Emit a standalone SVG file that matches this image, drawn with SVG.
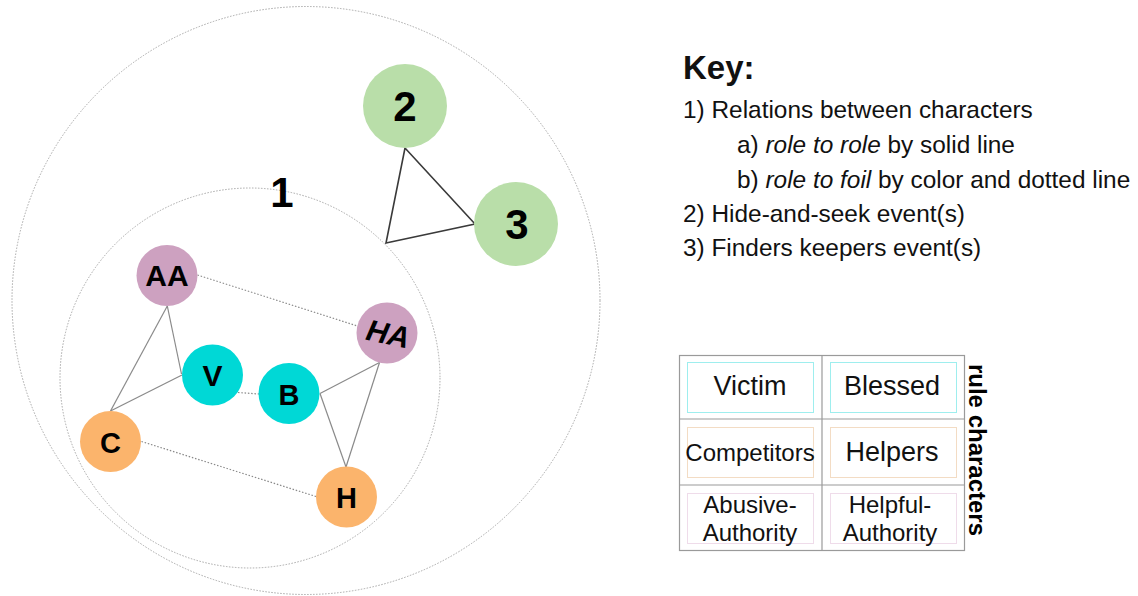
<svg xmlns="http://www.w3.org/2000/svg" width="1138" height="596" viewBox="0 0 1138 596">
<style>
.ring{fill:none;stroke:#a8a8a8;stroke-width:1;stroke-dasharray:1.5 1.5}
.solid{stroke:#8a8a8a;stroke-width:1.2;fill:none}
.dot{stroke:#8a8a8a;stroke-width:1.2;stroke-dasharray:1.5 1.8;fill:none}
.tri{stroke:#3a3a3a;stroke-width:1.6;fill:none}
.lbl{font-family:"Liberation Sans",Arial,sans-serif;font-weight:bold;fill:#000;text-anchor:middle}
.num{font-family:"Liberation Sans",Arial,sans-serif;font-weight:bold;font-size:42px;fill:#000;text-anchor:middle}
.key{font-family:"Liberation Sans",Arial,sans-serif;font-size:24.4px;fill:#111}
.cell{font-family:"Liberation Sans",Arial,sans-serif;fill:#111;text-anchor:middle}
.pink{fill:#cda1c0}
.cyan{fill:#00d8d6}
.orange{fill:#fbb46c}
.green{fill:#b9dea9}
.grid{fill:none;stroke:#9a9a9a;stroke-width:1.2}
</style>
<rect width="1138" height="596" fill="#fff"/>
<g id="rings">
<circle class="ring" cx="306" cy="300.5" r="294"/>
<circle class="ring" cx="250" cy="378" r="190"/>
<text class="num" x="282" y="207">1</text>
</g>
<g id="connectors">
<line class="solid" x1="167.3" y1="306" x2="110.5" y2="411"/>
<line class="solid" x1="167.3" y1="306" x2="181.5" y2="374"/>
<line class="solid" x1="110.5" y1="411" x2="182" y2="375"/>
<line class="solid" x1="320" y1="393.5" x2="379.5" y2="362.5"/>
<line class="solid" x1="320" y1="393.5" x2="346" y2="467"/>
<line class="solid" x1="379.5" y1="362.5" x2="346" y2="467"/>
<line class="dot" x1="197.5" y1="275" x2="357.5" y2="326"/>
<line class="dot" x1="238" y1="392.5" x2="259" y2="394"/>
<line class="dot" x1="141.5" y1="441.5" x2="316" y2="496.5"/>
<polygon class="tri" points="405,148 475,224 386,243"/>
</g>
<g id="node-2"><circle class="green" cx="405" cy="106" r="42"/><text class="num" x="405" y="121">2</text></g>
<g id="node-3"><circle class="green" cx="516" cy="224" r="42"/><text class="num" x="517" y="239">3</text></g>
<g id="node-AA"><circle class="pink" cx="167" cy="275.5" r="30.5"/><text class="lbl" x="167" y="286" font-size="30">AA</text></g>
<g id="node-HA"><circle class="pink" cx="387" cy="333" r="30.5"/><text class="lbl" x="0" y="0" font-size="30" font-style="italic" transform="translate(386,344) rotate(12)">HA</text></g>
<g id="node-V"><circle class="cyan" cx="212.5" cy="375" r="30.5"/><text class="lbl" x="212.5" y="386" font-size="30">V</text></g>
<g id="node-B"><circle class="cyan" cx="289" cy="393.5" r="30.5"/><text class="lbl" x="289" y="404.5" font-size="29">B</text></g>
<g id="node-C"><circle class="orange" cx="110.5" cy="441.5" r="30.5"/><text class="lbl" x="110.5" y="452.5" font-size="29">C</text></g>
<g id="node-H"><circle class="orange" cx="346.5" cy="497" r="30.5"/><text class="lbl" x="346.5" y="508" font-size="29">H</text></g>
<g id="key">
<text x="683" y="79" font-family="Liberation Sans, Arial, sans-serif" font-weight="bold" font-size="33" fill="#111">Key:</text>
<text class="key" x="683" y="118">1) Relations between characters</text>
<text class="key" x="737" y="153">a) <tspan font-style="italic">role to role</tspan> by solid line</text>
<text class="key" x="737" y="188">b) <tspan font-style="italic">role to foil</tspan> by color and dotted line</text>
<text class="key" x="683" y="222">2) Hide-and-seek event(s)</text>
<text class="key" x="683" y="256">3) Finders keepers event(s)</text>
</g>
<g id="table">
<rect class="grid" x="679.5" y="355.5" width="285" height="195"/>
<line class="grid" x1="822" y1="355.5" x2="822" y2="550.5"/>
<line class="grid" x1="679.5" y1="419" x2="964.5" y2="419"/>
<line class="grid" x1="679.5" y1="485" x2="964.5" y2="485"/>
<rect x="687.5" y="362.5" width="126" height="50" fill="none" stroke="#9eeeee" stroke-width="1"/>
<rect x="830.5" y="362.5" width="126" height="50" fill="none" stroke="#9eeeee" stroke-width="1"/>
<rect x="687.5" y="427.5" width="126" height="50" fill="none" stroke="#f3dcc4" stroke-width="1"/>
<rect x="830.5" y="427.5" width="126" height="50" fill="none" stroke="#f3dcc4" stroke-width="1"/>
<rect x="687.5" y="493.5" width="126" height="50" fill="none" stroke="#efdcea" stroke-width="1"/>
<rect x="830.5" y="493.5" width="126" height="50" fill="none" stroke="#efdcea" stroke-width="1"/>
<text class="cell" x="750" y="395" font-size="27">Victim</text>
<text class="cell" x="892" y="395" font-size="27">Blessed</text>
<text class="cell" x="750" y="461" font-size="24">Competitors</text>
<text class="cell" x="892" y="461" font-size="27">Helpers</text>
<text class="cell" x="750" y="513" font-size="24">Abusive-</text>
<text class="cell" x="750" y="541" font-size="24">Authority</text>
<text class="cell" x="890" y="513" font-size="24">Helpful-</text>
<text class="cell" x="890" y="541" font-size="24">Authority</text>
<text class="lbl" x="0" y="0" font-size="24" transform="translate(969,450) rotate(90)">rule characters</text>
</g>
</svg>
